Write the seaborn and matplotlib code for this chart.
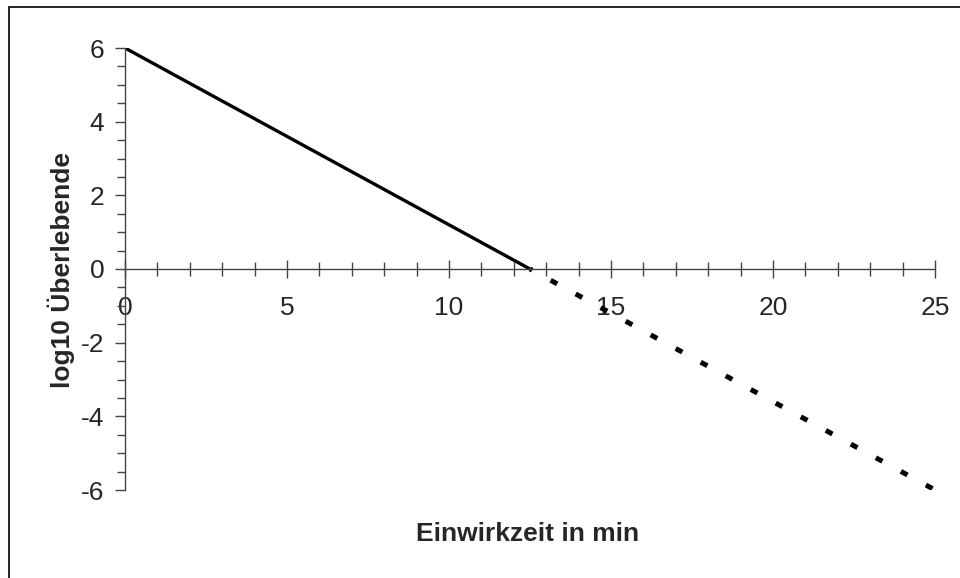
import matplotlib
matplotlib.use("Agg")
import matplotlib.pyplot as plt
from matplotlib.patches import Rectangle
from matplotlib.ticker import MultipleLocator
import pandas as pd
import seaborn as sns

# Measured part of the survivor curve (solid) and its extrapolation (dotted)
measured_time = [0, 12.5]
measured_log = [6, 0]
extrapolated_time = [12.5, 25]
extrapolated_log = [0, -6]

x_label = "Einwirkzeit in min"
y_label = "log10 Überlebende"

sns.set_theme(style="white")
plt.rcParams["font.family"] = ["Liberation Sans", "DejaVu Sans"]
plt.rcParams["axes.unicode_minus"] = False

fig = plt.figure(figsize=(9.6, 5.78), dpi=100)
ax = fig.add_axes([125 / 960, 1 - 490 / 578, 810 / 960, 442 / 578])

measured = pd.DataFrame({"t": measured_time, "log": measured_log})
extrapolated = pd.DataFrame({"t": extrapolated_time, "log": extrapolated_log})

sns.lineplot(data=measured, x="t", y="log", ax=ax, color="black", lw=2.4,
             solid_capstyle="butt")
sns.lineplot(data=extrapolated, x="t", y="log", ax=ax, color="black", lw=3.6,
             linestyle=(1.0, (1.5, 4.2)), dash_capstyle="butt")

ax.set_xlim(0, 25)
ax.set_ylim(-6, 6)

# Axes cross at the origin
ax.spines["left"].set_position(("data", 0))
ax.spines["bottom"].set_position(("data", 0))
ax.spines["top"].set_visible(False)
ax.spines["right"].set_visible(False)
for side in ("left", "bottom"):
    ax.spines[side].set_color("#444444")
    ax.spines[side].set_linewidth(1.0)

ax.xaxis.set_major_locator(MultipleLocator(5))
ax.xaxis.set_minor_locator(MultipleLocator(1))
ax.yaxis.set_major_locator(MultipleLocator(2))
ax.yaxis.set_minor_locator(MultipleLocator(0.5))

ax.tick_params(axis="x", which="major", direction="inout", length=13, width=1.0,
               color="#444444", labelsize=19, pad=13, bottom=True)
ax.tick_params(axis="x", which="minor", direction="inout", length=10, width=1.0,
               color="#444444", bottom=True)
ax.tick_params(axis="y", which="major", direction="out", length=7, width=1.0,
               color="#444444", labelsize=19, pad=8, left=True)
ax.tick_params(axis="y", which="minor", direction="out", length=6, width=1.0,
               color="#444444", left=True)

ax.set_xlabel("")
ax.set_ylabel("")
fig.text(528 / 960, 1 - 534 / 578, x_label, ha="center", va="center",
         fontsize=19, fontweight="bold")
fig.text(61 / 960, 1 - 270 / 578, y_label, ha="center", va="center",
         rotation=90, fontsize=19, fontweight="bold")

# Chart frame
fig.patches.append(Rectangle((9 / 960, -0.1), 1.2, 1 - 7 / 578 + 0.1,
                             transform=fig.transFigure, fill=False,
                             edgecolor="black", linewidth=1.2))

fig.savefig("out.png", dpi=100)
